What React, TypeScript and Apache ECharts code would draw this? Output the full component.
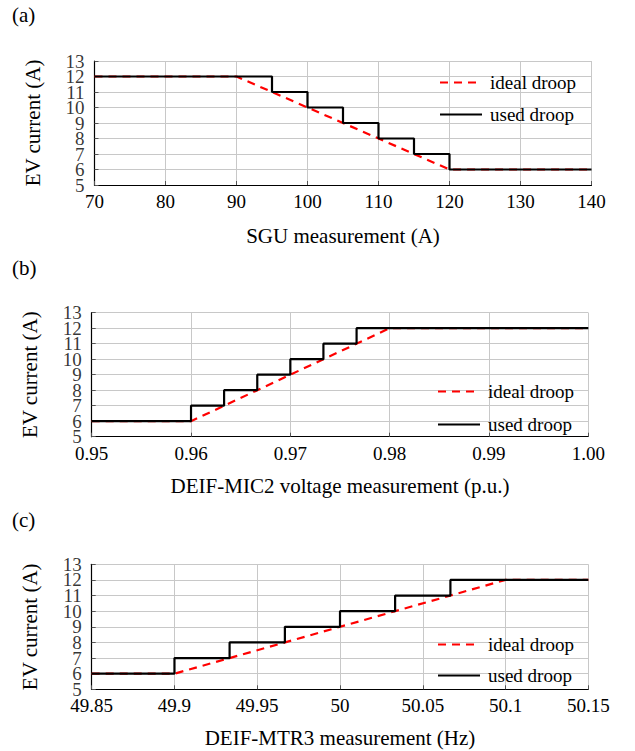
import React, { useEffect, useRef } from "react";
import * as echarts from "echarts";

// Panel (a): SGU measurement
const aIdealX = [70, 90, 120, 140];
const aIdealY = [12, 12, 6, 6];
const aUsedX = [70, 95, 100, 105, 110, 115, 120, 140];
const aUsedY = [12, 11, 10, 9, 8, 7, 6, 6];
const aTicks = ["70", "80", "90", "100", "110", "120", "130", "140"];

// Panel (b): DEIF-MIC2 voltage
const bIdealX = [0.95, 0.96, 0.98, 1.0];
const bIdealY = [6, 6, 12, 12];
const bUsedX = [0.95, 0.96, 0.96333, 0.96667, 0.97, 0.97333, 0.97667, 1.0];
const bUsedY = [6, 7, 8, 9, 10, 11, 12, 12];
const bTicks = ["0.95", "0.96", "0.97", "0.98", "0.99", "1.00"];

// Panel (c): DEIF-MTR3 frequency
const cIdealX = [49.85, 49.9, 50.1, 50.15];
const cIdealY = [6, 6, 12, 12];
const cUsedX = [49.85, 49.9, 49.9333, 49.9667, 50.0, 50.0333, 50.0667, 50.15];
const cUsedY = [6, 7, 8, 9, 10, 11, 12, 12];
const cTicks = ["49.85", "49.9", "49.95", "50", "50.05", "50.1", "50.15"];

const yTicks = ["5", "6", "7", "8", "9", "10", "11", "12", "13"];
const panelLabels = ["(a)", "(b)", "(c)"];
const xTitles = [
  "SGU measurement (A)",
  "DEIF-MIC2 voltage measurement (p.u.)",
  "DEIF-MTR3 measurement (Hz)",
];
const yTitle = "EV current (A)";
const seriesNames = ["ideal droop", "used droop"];

const FONT = "'Liberation Serif', 'Times New Roman', serif";

const zip = (xs: number[], ys: number[]) => xs.map((x, i) => [x, ys[i]]);

export default function App() {
  const ref = useRef<HTMLDivElement>(null);
  useEffect(() => {
    if (!ref.current) return;
    const chart = echarts.init(ref.current, null, { renderer: "svg" });

    const grids = [
      { left: 94.5, top: 61, width: 497, height: 124 },
      { left: 91.7, top: 312.7, width: 496.6, height: 124 },
      { left: 91.7, top: 564.3, width: 496.6, height: 125 },
    ];
    const xRanges = [
      { min: 70, max: 140, interval: 10, ticks: aTicks },
      { min: 0.95, max: 1.0, interval: 0.01, ticks: bTicks },
      { min: 49.85, max: 50.15, interval: 0.05, ticks: cTicks },
    ];
    const nameGaps = [40, 39, 38];
    const legendPos = [
      { left: 439, top: 73, gap: 13 },
      { left: 437, top: 382, gap: 14 },
      { left: 437, top: 635, gap: 12 },
    ];
    const ideal = [zip(aIdealX, aIdealY), zip(bIdealX, bIdealY), zip(cIdealX, cIdealY)];
    const used = [zip(aUsedX, aUsedY), zip(bUsedX, bUsedY), zip(cUsedX, cUsedY)];

    const tickText = { fontFamily: FONT, color: "#000", fontSize: 19 };
    const titleText = { fontFamily: FONT, color: "#000", fontSize: 21 };

    const option: any = {
      animation: false,
      backgroundColor: "#fff",
      textStyle: { fontFamily: FONT },
      grid: grids.map((g) => ({
        ...g,
        containLabel: false,
        outerBoundsMode: "none",
        show: false,
      })),
      xAxis: xRanges.map((r, i) => ({
        type: "value",
        gridIndex: i,
        min: r.min,
        max: r.max,
        interval: r.interval,
        name: xTitles[i],
        nameLocation: "middle",
        nameGap: nameGaps[i],
        nameTextStyle: { ...titleText },
        axisLine: { show: true, onZero: false, lineStyle: { color: "#000", width: 1.2 } },
        axisTick: { show: true, inside: true, length: 4, lineStyle: { color: "#555" } },
        splitLine: { show: true, lineStyle: { color: "#c8c8c8", width: 1 } },
        axisLabel: {
          ...tickText,
          margin: 7,
          hideOverlap: false,
          showMinLabel: true,
          showMaxLabel: true,
          formatter: (v: number) => {
            const t = r.ticks.find((s) => Math.abs(parseFloat(s) - v) < 1e-6);
            return t ?? "";
          },
        },
      })),
      yAxis: grids.map((_, i) => ({
        type: "value",
        gridIndex: i,
        min: 5,
        max: 13,
        interval: 1,
        name: yTitle,
        nameLocation: "middle",
        nameGap: 51,
        nameRotate: 90,
        nameTextStyle: { ...titleText },
        axisLine: { show: true, onZero: false, lineStyle: { color: "#000", width: 1.2 } },
        axisTick: { show: true, inside: true, length: 4, lineStyle: { color: "#555" } },
        splitLine: { show: true, lineStyle: { color: "#c8c8c8", width: 1 } },
        // tick labels overlap in the reference; they are drawn by the label series below
        axisLabel: { show: true, fontSize: 1, formatter: () => "" },
      })),
      legend: legendPos.map((p) => ({
        orient: "vertical",
        left: p.left,
        top: p.top,
        padding: 0,
        itemWidth: 42,
        itemHeight: 14,
        itemGap: p.gap,
        data: seriesNames,
        selectedMode: false,
        itemStyle: { opacity: 0 },
        textStyle: { ...tickText, padding: [0, 0, 0, 3] },
      })),
      series: [
        ...ideal.map((d, i) => ({
          type: "line",
          name: seriesNames[0],
          xAxisIndex: i,
          yAxisIndex: i,
          data: d,
          symbol: "none",
          z: 2,
          lineStyle: { color: "#ff0000", width: 2.2, type: [8, 6] },
          itemStyle: { color: "#ff0000" },
        })),
        ...used.map((d, i) => ({
          type: "line",
          name: seriesNames[1],
          xAxisIndex: i,
          yAxisIndex: i,
          data: d,
          step: "end",
          symbol: "none",
          z: 3,
          lineStyle: { color: "#000", width: 2.2 },
          itemStyle: { color: "#000" },
        })),
        ...xRanges.map((r, i) => ({
          type: "scatter",
          name: "yTickLabels" + i,
          xAxisIndex: i,
          yAxisIndex: i,
          data: yTicks.map((t) => [r.min, parseFloat(t)]),
          symbolSize: 0,
          silent: true,
          clip: false,
          z: 1,
          itemStyle: { color: "transparent" },
          label: {
            show: true,
            position: "left",
            distance: 10,
            ...tickText,
            formatter: (p: any) => yTicks[p.dataIndex],
          },
          labelLayout: { hideOverlap: false },
        })),
      ],
      graphic: [15, 268, 520].map((y, i) => ({
        type: "text",
        left: 12,
        top: y - 11,
        style: { text: panelLabels[i], font: `21px ${FONT}`, fill: "#000" },
      })),
    };

    chart.setOption(option);
    return () => chart.dispose();
  }, []);

  return (
    <div
      ref={ref}
      style={{ position: "fixed", left: 0, top: 0, width: 635, height: 751 }}
    />
  );
}
